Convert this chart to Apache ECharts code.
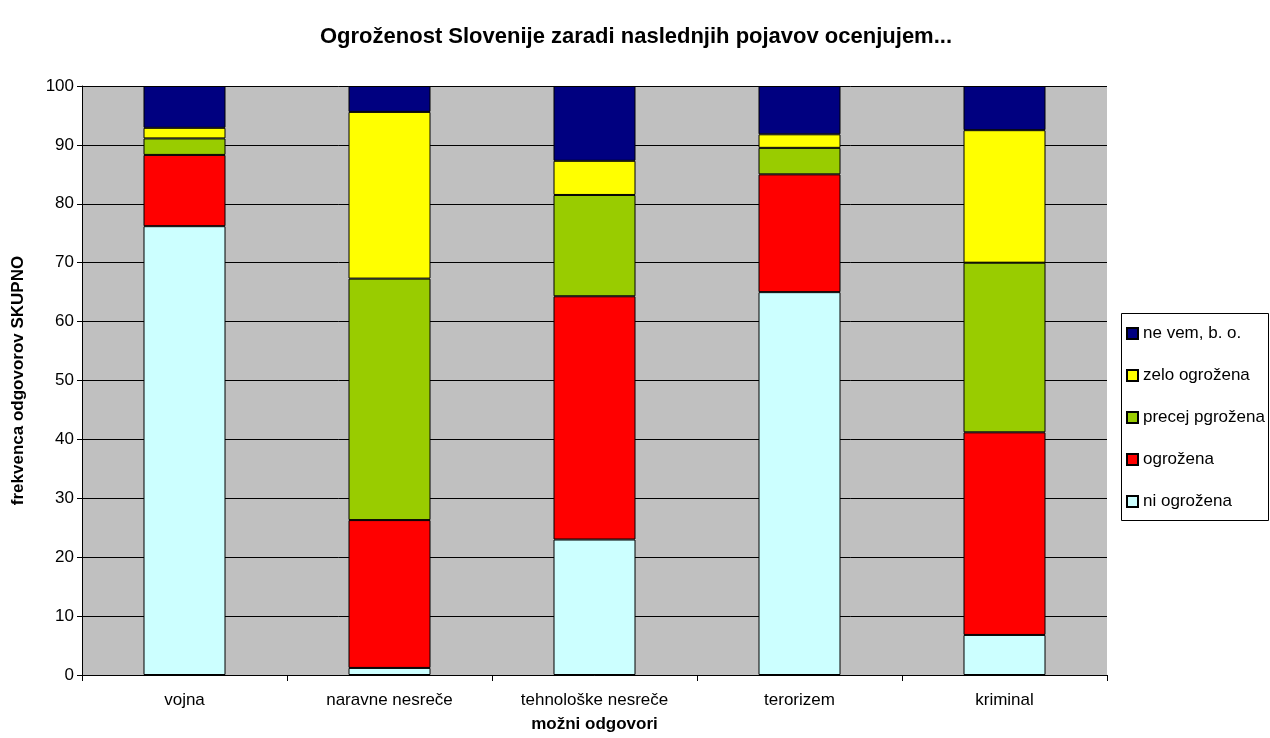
<!DOCTYPE html>
<html><head><meta charset="utf-8">
<script src="https://cdn.jsdelivr.net/npm/echarts@6/dist/echarts.min.js"></script>
<style>html,body{margin:0;padding:0;background:#fff;overflow:hidden}#c{width:1270px;height:738px}</style>
</head><body><div id="c"></div>
<script>
const categories = ['vojna', 'naravne nesreče', 'tehnološke nesreče', 'terorizem', 'kriminal'];
const niOgrozena = [76.2, 1.2, 23.0, 65.0, 6.8];
const ogrozena = [12.1, 25.1, 41.3, 20.0, 34.4];
const precejPgrozena = [2.8, 41.0, 17.2, 4.5, 28.8];
const zeloOgrozena = [1.8, 28.3, 5.8, 2.3, 22.5];
const neVem = [7.1, 4.4, 12.7, 8.2, 7.5];
const seriesNames = ['ni ogrožena', 'ogrožena', 'precej pgrožena', 'zelo ogrožena', 'ne vem, b. o.'];
const seriesColors = ['#CCFFFF', '#FF0000', '#99CC00', '#FFFF00', '#000080'];
const seriesData = [niOgrozena, ogrozena, precejPgrozena, zeloOgrozena, neVem];

const font = 'Arial, "Liberation Sans", sans-serif';
const chart = echarts.init(document.getElementById('c'), null, { width: 1270, height: 738 });
chart.setOption({
  animation: false,
  backgroundColor: '#fff',
  textStyle: { fontFamily: font },
  title: {
    text: 'Ogroženost Slovenije zaradi naslednjih pojavov ocenjujem...',
    left: 631, top: 21, textAlign: 'center',
    textStyle: { fontSize: 22, fontWeight: 'bold', color: '#000', fontFamily: font }
  },
  graphic: [{
    type: 'rect', shape: { x: 1121.5, y: 313.5, width: 147, height: 207 },
    style: { fill: '#fff', stroke: '#000', lineWidth: 1 }, z: -1
  }],
  legend: {
    orient: 'vertical', left: 1121, top: 320,
    data: seriesNames.slice().reverse(),
    icon: 'rect',
    itemWidth: 11, itemHeight: 11, itemGap: 25,
    textStyle: { fontSize: 17, lineHeight: 17, color: '#000', fontFamily: font },
    selectedMode: false
  },
  grid: { left: 82, top: 86, width: 1025, height: 590, show: true, backgroundColor: '#C0C0C0', borderColor: '#808080', borderWidth: 0 },
  xAxis: {
    type: 'category', data: categories,
    name: 'možni odgovori', nameLocation: 'middle', nameGap: 41,
    nameTextStyle: { fontSize: 17, fontWeight: 'bold', color: '#000', fontFamily: font },
    axisLine: { lineStyle: { color: '#000' } },
    axisTick: { show: true, length: 6, lineStyle: { color: '#000' } },
    axisLabel: { fontSize: 17, color: '#000', margin: 17, fontFamily: font }
  },
  yAxis: {
    type: 'value', min: 0, max: 100, interval: 10,
    name: 'frekvenca odgovorov SKUPNO', nameLocation: 'middle', nameGap: 55,
    nameTextStyle: { fontSize: 17, fontWeight: 'bold', color: '#000', fontFamily: font },
    axisLine: { show: true, lineStyle: { color: '#000' } },
    axisTick: { show: true, length: 5, lineStyle: { color: '#000' } },
    axisLabel: { fontSize: 17, color: '#000', margin: 8, fontFamily: font },
    splitLine: { show: true, lineStyle: { color: '#000', width: 1 } }
  },
  series: seriesNames.map((n, i) => ({
    name: n, type: 'bar', stack: 'total', barWidth: '40%',
    data: seriesData[i],
    itemStyle: { color: seriesColors[i], borderColor: '#000', borderWidth: 1 }
  }))
});
</script></body></html>
